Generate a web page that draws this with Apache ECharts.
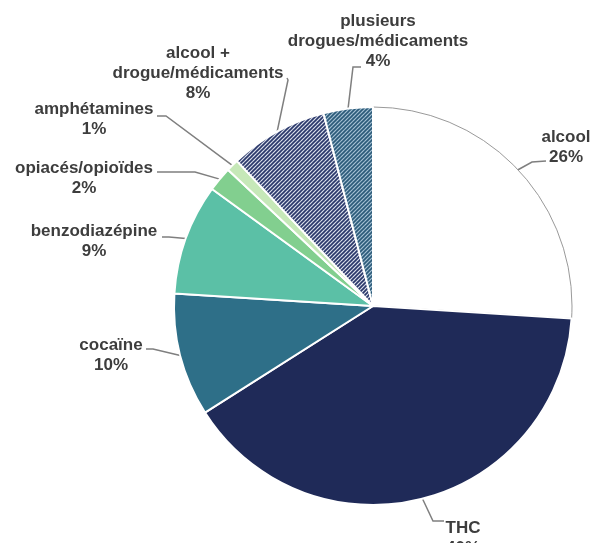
<!DOCTYPE html>
<html>
<head>
<meta charset="utf-8">
<script src="https://cdn.jsdelivr.net/npm/echarts@6/dist/echarts.min.js"></script>
<style>
html,body{margin:0;padding:0;background:#fff;}
#chart{width:595px;height:543px;}
</style>
</head>
<body>
<div id="chart"></div>
<script>
const categories = ['alcool', 'THC', 'cocaïne', 'benzodiazépine', 'opiacés/opioïdes', 'amphétamines', 'alcool +\ndrogue/médicaments', 'plusieurs\ndrogues/médicaments'];
const values = [26, 40, 10, 9, 2, 1, 8, 4];

// layout (label centres and label-line elbows), kept separate from the data
const labelCentres = [[566,147],[463,538],[111,355],[94,241],[84,178],[94,119],[198,73],[378,41]];
const lineElbows = [
  [[532,162],[546,161]],
  [[433,521],[444,521]],
  [[153,349],[146,349]],
  [[169,237],[162,237]],
  [[195,172],[157,172]],
  [[166,116],[157,116]],
  [[288,80],[287,78]],
  [[353,67],[361,67]]
];

function hatch(dark, light) {
  const c = document.createElement('canvas');
  const s = 4;
  c.width = s; c.height = s;
  const g = c.getContext('2d');
  g.fillStyle = light; g.fillRect(0,0,s,s);
  g.strokeStyle = dark; g.lineWidth = 1.7;
  for (let k = -1; k <= 2; k++) {
    g.beginPath();
    g.moveTo(k*s - s, s + s); g.lineTo(k*s + s + s, -s);
    g.stroke();
  }
  return { image: c, repeat: 'repeat' };
}

const fills = [
  '#ffffff', '#1f2a58', '#2e6f88', '#5bc0a6', '#82cf8f', '#c6e8b8',
  hatch('#2a376a', '#dfe4ee'), hatch('#2b5a79', '#a9c5d6')
];

const chart = echarts.init(document.getElementById('chart'), null, {renderer: 'canvas'});
const cx = 373, cy = 306, R = 199;
chart.setOption({
  animation: false,
  backgroundColor: '#ffffff',
  series: [{
    type: 'pie',
    center: [cx, cy],
    radius: [0, R],
    startAngle: 90,
    clockwise: true,
    avoidLabelOverlap: false,
    data: categories.map((n, i) => ({
      name: n, value: values[i],
      itemStyle: i === 0
        ? { color: fills[i], borderColor: '#9a9a9a', borderWidth: 1 }
        : { color: fills[i], borderColor: '#ffffff', borderWidth: 2 }
    })),
    label: {
      show: true,
      position: 'outside',
      formatter: '{b}\n{c}%',
      fontFamily: 'Liberation Sans, Arial, sans-serif',
      fontWeight: 'bold',
      fontSize: 17,
      lineHeight: 20,
      color: '#3d3d3d',
      align: 'center'
    },
    labelLine: {
      show: true,
      length: 15, length2: 10,
      lineStyle: { color: '#7f7f7f', width: 1.5 }
    },
    labelLayout: function (p) {
      const i = p.dataIndex;
      let anchor;
      if (p.labelLinePoints && p.labelLinePoints[0]) {
        anchor = p.labelLinePoints[0];
      } else {
        let before = 0; for (let k = 0; k < i; k++) before += values[k];
        const tot = values.reduce((a,b)=>a+b,0);
        const a = (before + values[i]/2) / tot * Math.PI * 2;
        anchor = [cx + R*Math.sin(a), cy - R*Math.cos(a)];
      }
      return {
        x: labelCentres[i][0], y: labelCentres[i][1],
        align: 'center', verticalAlign: 'middle',
        labelLinePoints: [anchor, lineElbows[i][0], lineElbows[i][1]]
      };
    }
  }]
});
</script>
</body>
</html>
